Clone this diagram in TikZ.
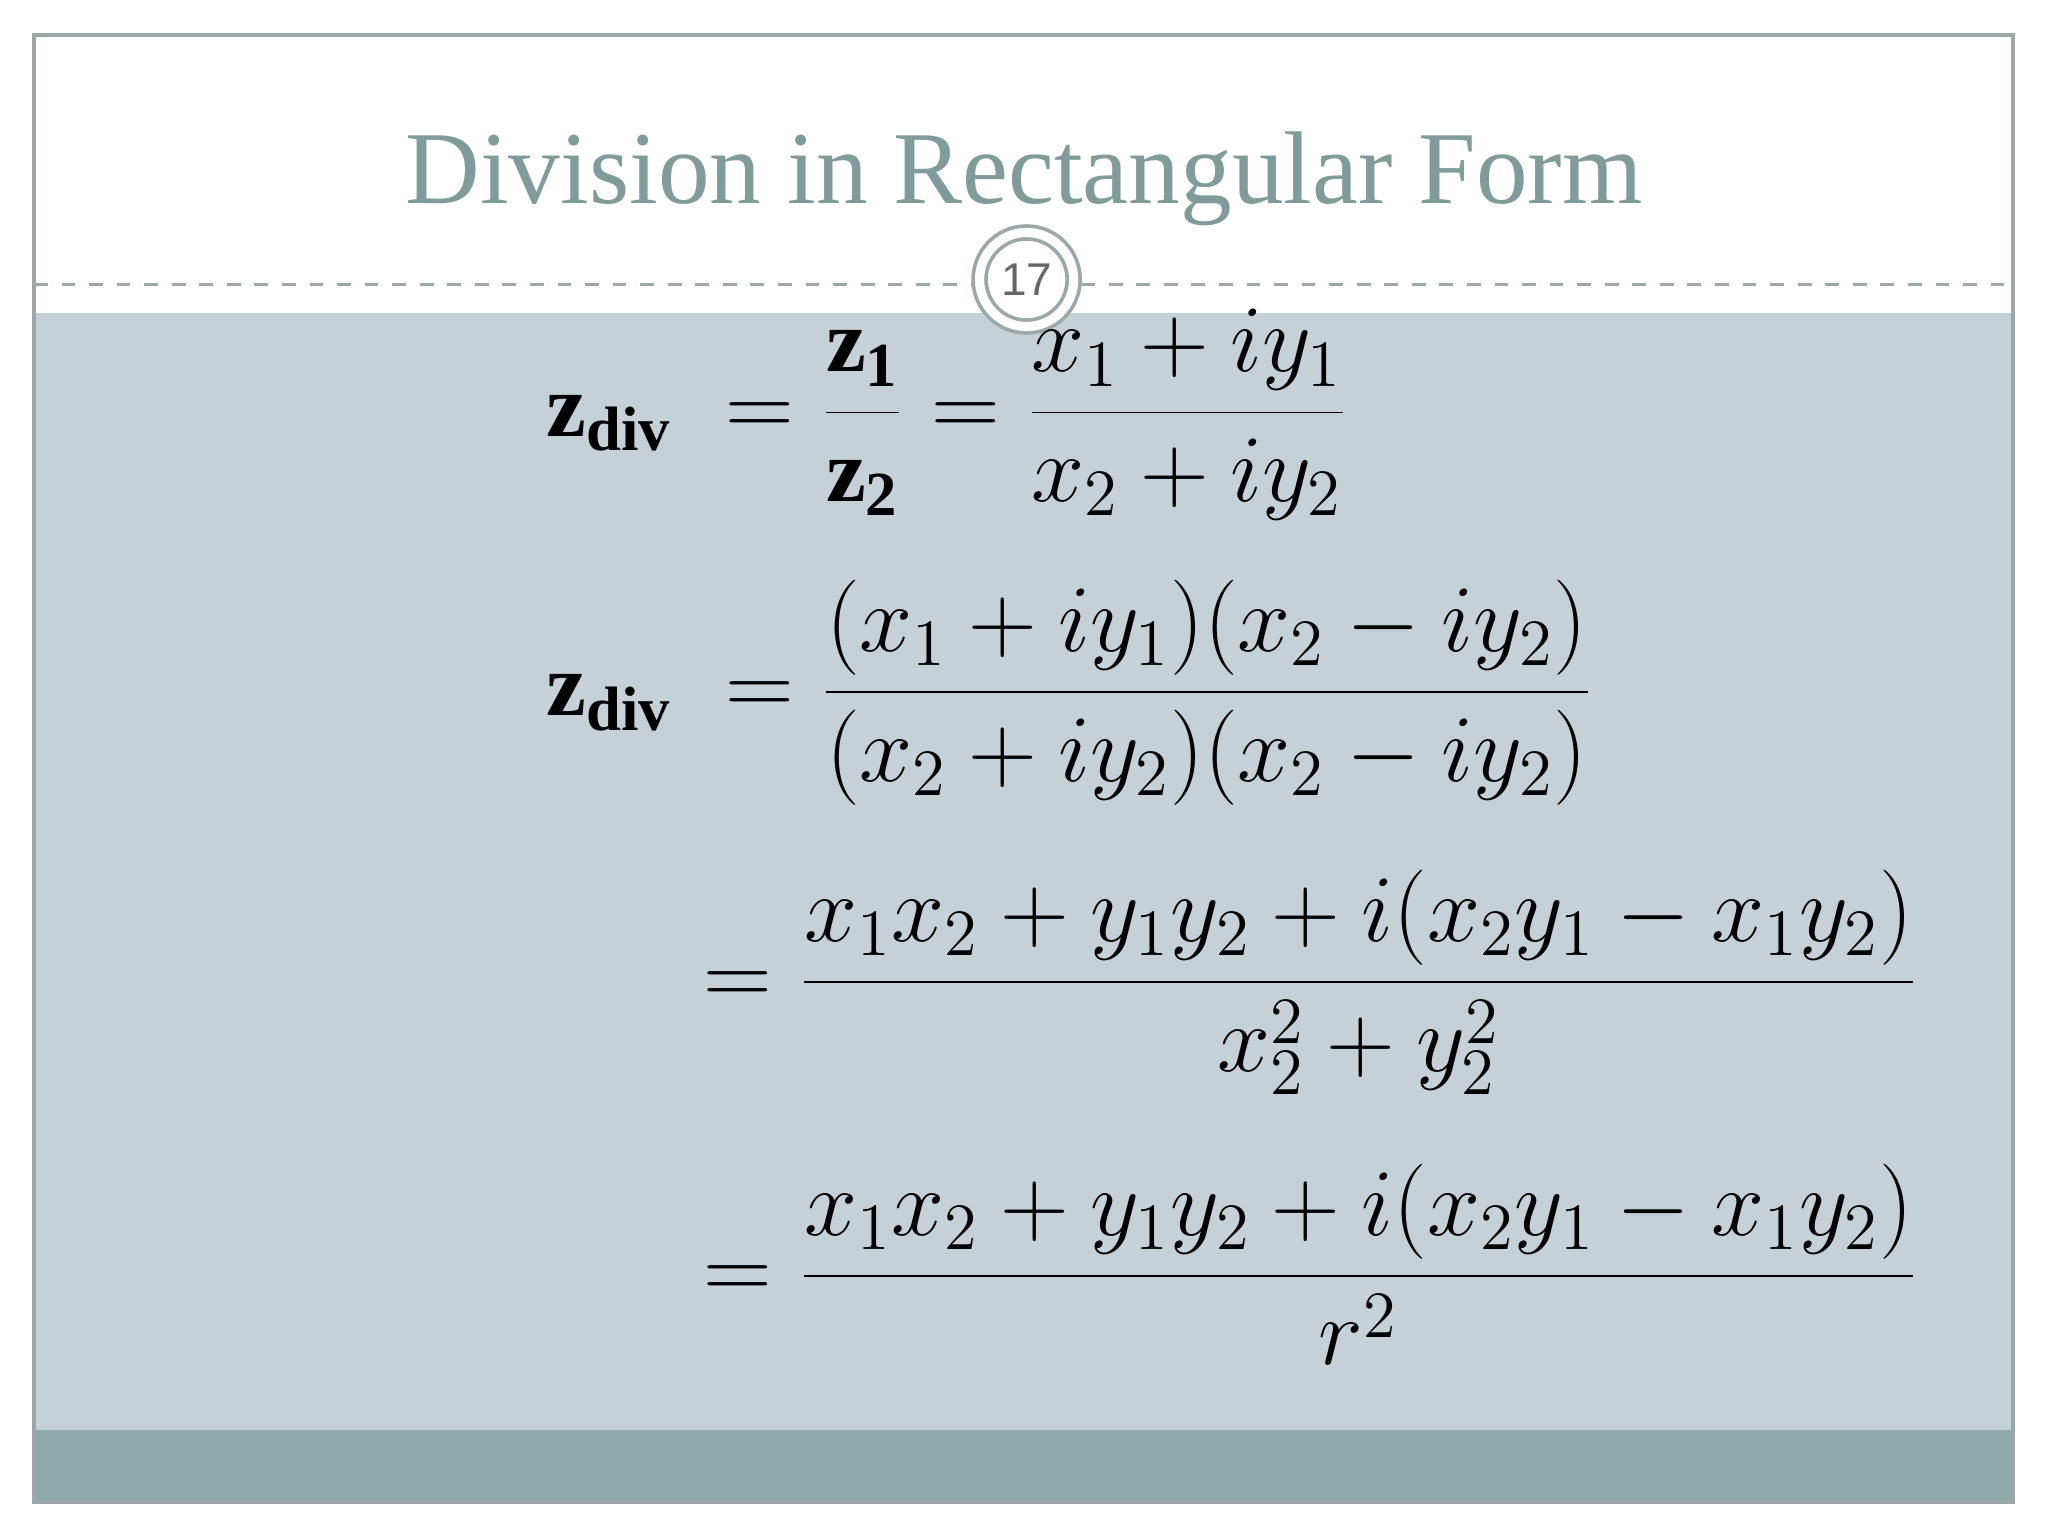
\documentclass[tikz,border=0pt]{standalone}
\usepackage{fontspec}
\setmainfont{Liberation Serif}
\setsansfont{Liberation Sans}
\definecolor{titlec}{HTML}{7F9C9A}
\definecolor{bodyc}{HTML}{C5D1D6}
\definecolor{bandc}{HTML}{8FABA9}
\definecolor{framec}{HTML}{9AA8A8}
\tikzset{eq/.style={anchor=base west,inner sep=0pt,font=\fontsize{19.5}{24}\selectfont}}
\begin{document}
\begin{tikzpicture}[x=0.01cm,y=-0.01cm]
\useasboundingbox (0,0) rectangle (1568,1176);
\fill[white] (0,0) rectangle (1568,1176);
\fill[bodyc] (26,240) rectangle (1541,1095);
\fill[bandc] (26,1095) rectangle (1541,1150);
\draw[framec,line width=0.8pt] (26,27) rectangle (1541,1150);
\draw[framec,dashed,line width=0.6pt] (26,218) -- (1541,218);
\node[text=titlec,font=\fontsize{22.5}{26}\selectfont] (title) at (784,137) {Division in Rectangular Form};
\node[circle,fill=white,minimum size=0.72cm,inner sep=0pt,draw=framec,double=white,double distance=2pt,line width=0.8pt,font=\sffamily\fontsize{10}{12}\selectfont,text=gray!80!black] (num) at (786,214) {17};
\node[eq] (e1) at (418,334) {$\displaystyle \mathbf{z}_{\mathbf{div}}\;=\frac{\mathbf{z}_{\mathbf{1}}}{\mathbf{z}_{\mathbf{2}}}=\frac{x_1+iy_1}{x_2+iy_2}$};
\node[eq] (e2) at (418,548) {$\displaystyle \mathbf{z}_{\mathbf{div}}\;=\frac{(x_1+iy_1)(x_2-iy_2)}{(x_2+iy_2)(x_2-iy_2)}$};
\node[eq] (e3) at (538,770) {$\displaystyle =\frac{x_1x_2+y_1y_2+i(x_2y_1-x_1y_2)}{x_2^{2}+y_2^{2}}$};
\node[eq] (e4) at (538,995) {$\displaystyle =\frac{x_1x_2+y_1y_2+i(x_2y_1-x_1y_2)}{r^2}$};
\end{tikzpicture}
\end{document}
